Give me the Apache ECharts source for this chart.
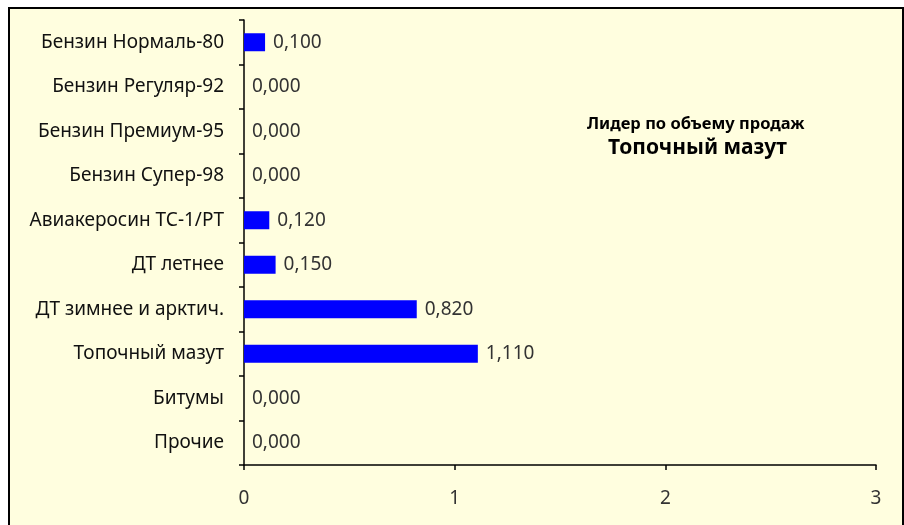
<!DOCTYPE html>
<html><head><meta charset="utf-8">
<script src="https://cdn.jsdelivr.net/npm/echarts@6/dist/echarts.min.js"></script>
<style>html,body{margin:0;padding:0;background:#fff;}#c{width:904px;height:525px;}</style>
</head><body><div id="c"></div>
<script>
const categories = ["Бензин Нормаль-80","Бензин Регуляр-92","Бензин Премиум-95","Бензин Супер-98","Авиакеросин ТС-1/РТ","ДТ летнее","ДТ зимнее и арктич.","Топочный мазут","Битумы","Прочие"];
const values = [0.100,0.000,0.000,0.000,0.120,0.150,0.820,1.110,0.000,0.000];
const xTicks = [0,1,2,3];
const noteTitle = "Лидер по объему продаж";
const noteLeader = "Топочный мазут";

const chart = echarts.init(document.getElementById('c'), null, {renderer:'canvas'});
const font = '"Noto Sans", "Open Sans", sans-serif';
chart.setOption({
  animation:false,
  backgroundColor:'#fff',
  textStyle:{fontFamily:font},
  graphic:[
    {type:'rect', z:-10, shape:{x:9, y:8, width:894, height:530}, style:{fill:'#FFFEDF', stroke:'#000', lineWidth:2}},
    {type:'text', left:587, top:116, style:{text:noteTitle, font:'bold 16.5px '+font, fill:'#000'}},
    {type:'text', left:608, top:138, style:{text:noteLeader, font:'bold 21px '+font, fill:'#000'}}
  ],
  grid:{left:244, right:28, top:20, bottom:60, containLabel:false},
  xAxis:{type:'value', min:xTicks[0], max:xTicks[xTicks.length-1], interval:1,
    axisLine:{show:true, lineStyle:{color:'#000', width:1.5}},
    axisTick:{show:true, length:5, lineStyle:{color:'#000', width:1.5}},
    splitLine:{show:false},
    axisLabel:{color:'#333', fontSize:19, margin:24, fontFamily:font}},
  yAxis:{type:'category', inverse:true, data:categories,
    axisLine:{show:true, lineStyle:{color:'#000', width:1.5}},
    axisTick:{show:true, length:5, lineStyle:{color:'#000', width:1.5}},
    axisLabel:{color:'#111', fontSize:19, margin:20, fontFamily:font}},
  series:[{type:'bar', data:values, barWidth:18, itemStyle:{color:'#0000FF'},
    label:{show:true, position:'right', distance:8, color:'#333', fontSize:19, fontFamily:font,
      formatter:p=>p.value.toFixed(3).replace('.',',')}}]
});
</script></body></html>
